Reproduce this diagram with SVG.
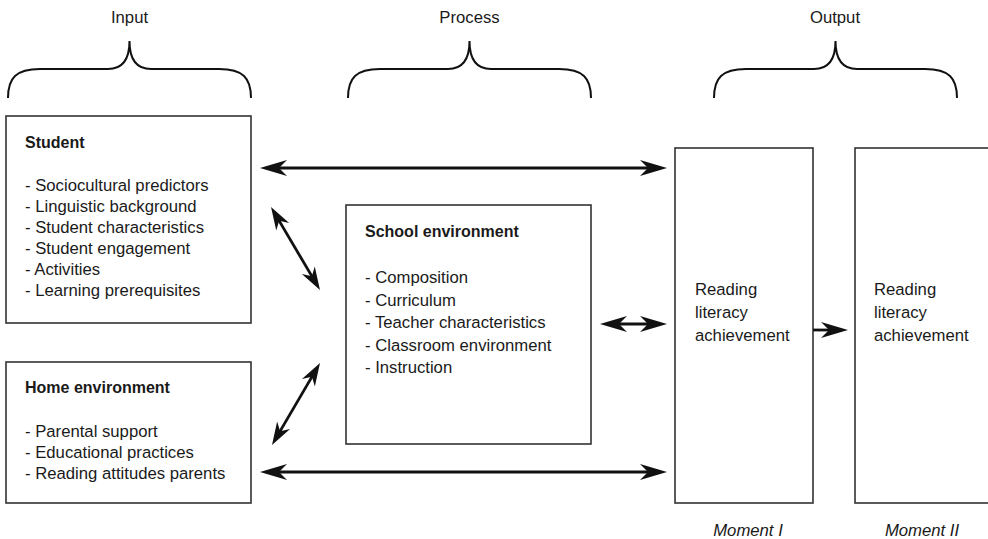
<svg xmlns="http://www.w3.org/2000/svg" width="988" height="539" viewBox="0 0 988 539">
<style>
  .t { font-family: "Liberation Sans", Arial, sans-serif; font-size: 16.7px; fill: #1a1a1a; }
  .b { font-weight: bold; font-size: 16px; }
  .i { font-style: italic; }
  .box { fill: #fff; stroke: #333; stroke-width: 1.6; }
  .brace { fill: none; stroke: #111; stroke-width: 2; }
  .ar { stroke: #111; stroke-width: 2.8; fill: none; }
</style>
<defs>
  <marker id="ah" markerUnits="userSpaceOnUse" viewBox="-28 -9 30 18" markerWidth="30" markerHeight="18" refX="-10" refY="0" orient="auto-start-reverse" overflow="visible">
    <path d="M0,0 L-27,-8 L-19,0 L-27,8 Z" fill="#111"/>
  </marker>
  <marker id="ahs" markerUnits="userSpaceOnUse" viewBox="-24 -8 26 16" markerWidth="26" markerHeight="16" refX="-10" refY="0" orient="auto-start-reverse" overflow="visible">
    <path d="M0,0 L-23,-7.5 L-16,0 L-23,7.5 Z" fill="#111"/>
  </marker>
</defs>

<g id="headers">
  <text class="t" x="129.5" y="23" text-anchor="middle">Input</text>
  <text class="t" x="469.5" y="23" text-anchor="middle">Process</text>
  <text class="t" x="835" y="23" text-anchor="middle">Output</text>
  <path class="brace" d="M8,98 C8,78 16,69 40,69 L108,69 C122,69 129.5,60 129.5,41 C129.5,60 137,69 151,69 L219,69 C243,69 251,78 251,98"/>
  <path class="brace" d="M348,98 C348,78 356,69 380,69 L448,69 C462,69 469.5,60 469.5,41 C469.5,60 477,69 491,69 L559,69 C583,69 591,78 591,98"/>
  <path class="brace" d="M714,98 C714,78 722,69 746,69 L814,69 C828,69 835.5,60 835.5,41 C835.5,60 843,69 857,69 L925,69 C949,69 957,78 957,98"/>
</g>

<g id="student">
  <rect class="box" x="6" y="116" width="245" height="207"/>
  <text class="t b" x="25" y="148">Student</text>
  <text class="t" x="25" y="191">- Sociocultural predictors</text>
  <text class="t" x="25" y="212">- Linguistic background</text>
  <text class="t" x="25" y="233">- Student characteristics</text>
  <text class="t" x="25" y="254">- Student engagement</text>
  <text class="t" x="25" y="275">- Activities</text>
  <text class="t" x="25" y="296">- Learning prerequisites</text>
</g>

<g id="home">
  <rect class="box" x="6" y="362" width="245" height="141"/>
  <text class="t b" x="25" y="393">Home environment</text>
  <text class="t" x="25" y="436.5">- Parental support</text>
  <text class="t" x="25" y="457.5">- Educational practices</text>
  <text class="t" x="25" y="478.5">- Reading attitudes parents</text>
</g>

<g id="school">
  <rect class="box" x="346" y="205" width="245" height="239"/>
  <text class="t b" x="365" y="237">School environment</text>
  <text class="t" x="365" y="283">- Composition</text>
  <text class="t" x="365" y="305.5">- Curriculum</text>
  <text class="t" x="365" y="328">- Teacher characteristics</text>
  <text class="t" x="365" y="350.5">- Classroom environment</text>
  <text class="t" x="365" y="373">- Instruction</text>
</g>

<g id="moment1">
  <rect class="box" x="675" y="148" width="138" height="355"/>
  <text class="t" x="695" y="295">Reading</text>
  <text class="t" x="695" y="318">literacy</text>
  <text class="t" x="695" y="341">achievement</text>
  <text class="t i" x="748" y="536" text-anchor="middle">Moment I</text>
</g>

<g id="moment2">
  <rect class="box" x="855" y="148" width="140" height="355"/>
  <text class="t" x="874" y="295">Reading</text>
  <text class="t" x="874" y="318">literacy</text>
  <text class="t" x="874" y="341">achievement</text>
  <text class="t i" x="922" y="536" text-anchor="middle">Moment II</text>
</g>

<g id="connectors">
  <line class="ar" x1="270" y1="168" x2="657" y2="168" marker-start="url(#ah)" marker-end="url(#ah)"/>
  <line class="ar" x1="270" y1="472" x2="657" y2="472" marker-start="url(#ah)" marker-end="url(#ah)"/>
  <line class="ar" x1="610" y1="324" x2="657" y2="324" marker-start="url(#ah)" marker-end="url(#ah)"/>
  <line class="ar" x1="276.1" y1="215.6" x2="314.9" y2="281.4" marker-start="url(#ahs)" marker-end="url(#ahs)"/>
  <line class="ar" x1="314.95" y1="371.6" x2="277.05" y2="436.4" marker-start="url(#ahs)" marker-end="url(#ahs)"/>
  <line class="ar" x1="813" y1="330" x2="838" y2="330" marker-end="url(#ah)"/>
</g>
</svg>
